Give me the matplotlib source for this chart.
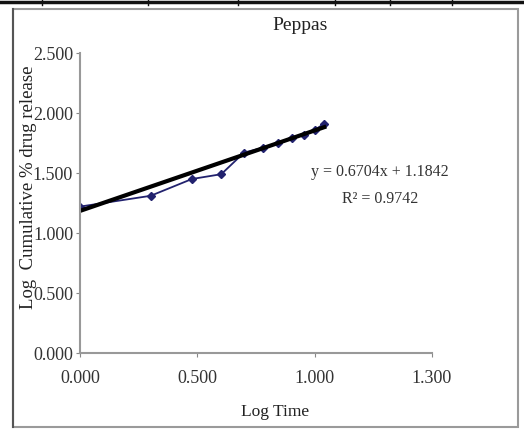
import matplotlib
matplotlib.use("Agg")
from matplotlib import pyplot as plt
from matplotlib.lines import Line2D
from matplotlib.patches import Rectangle
import numpy as np

# Peppas model data (log time vs log cumulative % drug release)
log_time = [0.000, 0.301, 0.477, 0.602, 0.699, 0.778, 0.845, 0.903, 0.954, 1.000, 1.041]
log_release = [1.22, 1.31, 1.45, 1.49, 1.67, 1.71, 1.75, 1.79, 1.82, 1.86, 1.91]

slope = 0.6704
intercept = 1.1842
r2 = 0.9742

x_ticks = [0.0, 0.5, 1.0, 1.5]
x_tick_labels = ["0.000", "0.500", "1.000", "1.300"]
y_ticks = [0.0, 0.5, 1.0, 1.5, 2.0, 2.5]

plt.rcParams['font.family'] = ['Liberation Serif', 'DejaVu Serif']

W, H = 524, 430
fig = plt.figure(figsize=(W / 100, H / 100), dpi=100)

# table border from the page above the chart
fig.add_artist(Line2D([0, 1], [1 - 1.5 / H, 1 - 1.5 / H], color="#111111", lw=2.5))
for sx in [42, 148, 238, 335, 390, 452]:
    fig.add_artist(Line2D([sx / W, sx / W], [1 - 5 / H, 1], color="#111111", lw=1))

# chart frame
fig.add_artist(Rectangle((13 / W, 3 / H), 505 / W, 418 / H, fill=False,
                         edgecolor="#9a9a9a", lw=1.5))
fig.add_artist(Line2D([13 / W, 13 / W], [3 / H, 421 / H], color="#555555", lw=1.5))

ax = fig.add_axes([80 / W, 77 / H, 352 / W, 300 / H])
ax.plot(log_time, log_release, color="#22226e", marker="D", markersize=4.5, lw=1.3)

xfit = np.array([log_time[0], log_time[-1]])
ax.plot(xfit, slope * xfit + intercept, color="black", lw=3)

ax.set_xlim(0, 1.5)
ax.set_ylim(0, 2.5)
ax.set_xticks(x_ticks)
ax.set_xticklabels(x_tick_labels)
ax.set_yticks(y_ticks)
ax.set_yticklabels(["%.3f" % v for v in y_ticks])
ax.tick_params(labelsize=13, colors="#333333", length=3, color="#888888")
ax.tick_params(axis="x", pad=9)
ax.tick_params(axis="y", pad=2)

for side in ["top", "right"]:
    ax.spines[side].set_visible(False)
for side in ["left", "bottom"]:
    ax.spines[side].set_color("#999999")
    ax.spines[side].set_linewidth(1.5)

fig.text(300 / W, 1 - 25 / H, "Peppas", ha="center", va="center", fontsize=14, color="#222222")
fig.text(275 / W, 1 - 412 / H, "Log Time", ha="center", va="center", fontsize=12.5, color="#222222")
fig.text(29 / W, 1 - 187 / H, "Log  Cumulative % drug release", ha="center", va="center",
         rotation=90, fontsize=13.5, color="#222222")

fig.text(380 / W, 1 - 172 / H, "y = %.4fx + %.4f" % (slope, intercept), ha="center", va="center",
         fontsize=11.5, color="#333333")
fig.text(380 / W, 1 - 199 / H, "R² = %.4f" % r2, ha="center", va="center",
         fontsize=11.5, color="#333333")

plt.savefig("out.png", dpi=100)
